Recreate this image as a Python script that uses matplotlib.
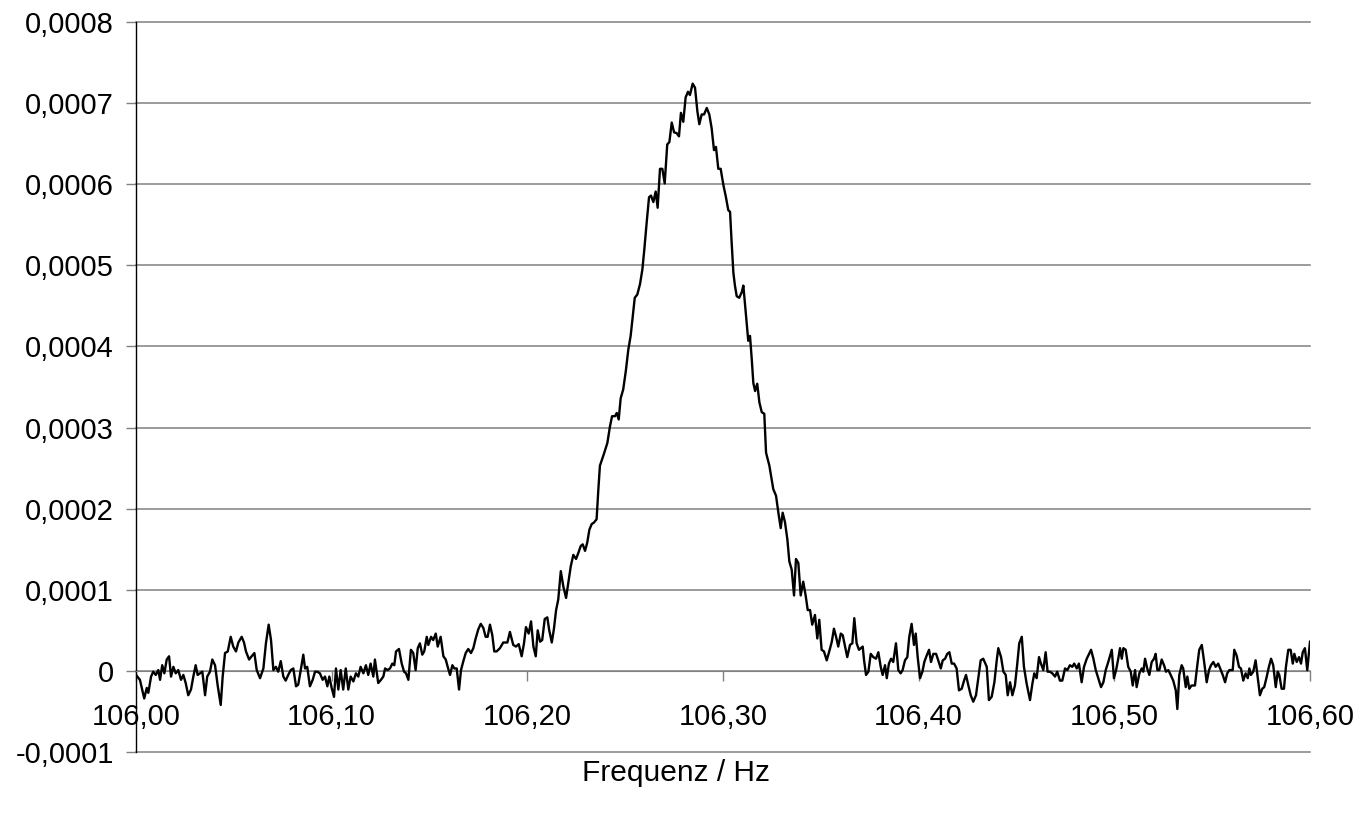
import matplotlib
matplotlib.use("Agg")
import matplotlib.pyplot as plt
from matplotlib.ticker import FuncFormatter

# Spektrum um 106,28 Hz (Amplitude in Einheiten von 1e-4)
freq_hz = [
    106.0000, 106.0020, 106.0042, 106.0055, 106.0063, 106.0077, 106.0088, 106.0101,
    106.0114, 106.0123, 106.0134, 106.0145, 106.0157, 106.0169, 106.0179, 106.0191,
    106.0203, 106.0216, 106.0230, 106.0242, 106.0254, 106.0267, 106.0281, 106.0293,
    106.0305, 106.0315, 106.0327, 106.0339, 106.0353, 106.0364, 106.0378, 106.0390,
    106.0404, 106.0418, 106.0433, 106.0443, 106.0455, 106.0469, 106.0484, 106.0497,
    106.0511, 106.0523, 106.0540, 106.0552, 106.0562, 106.0578, 106.0591, 106.0605,
    106.0617, 106.0634, 106.0651, 106.0664, 106.0678, 106.0690, 106.0702, 106.0715,
    106.0727, 106.0740, 106.0753, 106.0765, 106.0778, 106.0791, 106.0804, 106.0818,
    106.0829, 106.0842, 106.0855, 106.0864, 106.0875, 106.0889, 106.0903, 106.0915,
    106.0927, 106.0940, 106.0954, 106.0966, 106.0978, 106.0988, 106.1000, 106.1012,
    106.1022, 106.1034, 106.1046, 106.1059, 106.1072, 106.1085, 106.1097, 106.1111,
    106.1124, 106.1136, 106.1148, 106.1162, 106.1175, 106.1187, 106.1199, 106.1213,
    106.1221, 106.1230, 106.1238, 106.1252, 106.1264, 106.1273, 106.1286, 106.1298,
    106.1310, 106.1320, 106.1329, 106.1344, 106.1358, 106.1370, 106.1380, 106.1392,
    106.1405, 106.1417, 106.1429, 106.1440, 106.1451, 106.1463, 106.1473, 106.1486,
    106.1494, 106.1508, 106.1519, 106.1532, 106.1542, 106.1557, 106.1571, 106.1583,
    106.1593, 106.1605, 106.1617, 106.1627, 106.1639, 106.1651, 106.1661, 106.1673,
    106.1685, 106.1698, 106.1712, 106.1724, 106.1736, 106.1749, 106.1762, 106.1775,
    106.1787, 106.1797, 106.1809, 106.1821, 106.1831, 106.1843,
    106.1860, 106.1877, 106.1898, 106.1911, 106.1928, 106.1942, 106.1956, 106.1971,
    106.1983, 106.1993, 106.2007, 106.2019, 106.2031, 106.2043, 106.2053, 106.2065,
    106.2076, 106.2089, 106.2102, 106.2112, 106.2125, 106.2136, 106.2147, 106.2158,
    106.2171, 106.2184, 106.2198, 106.2209, 106.2222, 106.2235, 106.2249, 106.2260,
    106.2273, 106.2283, 106.2295, 106.2306, 106.2317, 106.2329, 106.2341, 106.2354,
    106.2363, 106.2371,
    106.2392, 106.2409, 106.2422, 106.2433, 106.2448, 106.2457, 106.2467, 106.2477,
    106.2490, 106.2504, 106.2516, 106.2528, 106.2539, 106.2549, 106.2562, 106.2576,
    106.2588, 106.2598, 106.2610, 106.2622, 106.2632, 106.2644, 106.2656, 106.2666,
    106.2678, 106.2690, 106.2702, 106.2715, 106.2726, 106.2738, 106.2750, 106.2763,
    106.2775, 106.2785, 106.2797, 106.2809, 106.2821, 106.2831, 106.2845, 106.2857,
    106.2869, 106.2879, 106.2891, 106.2903, 106.2917, 106.2930, 106.2942, 106.2954,
    106.2964, 106.2976, 106.2988, 106.3002, 106.3015, 106.3027, 106.3036, 106.3044,
    106.3053, 106.3061, 106.3070, 106.3083,
    106.3096, 106.3104, 106.3112, 106.3121, 106.3129, 106.3138, 106.3147, 106.3155,
    106.3164, 106.3175, 106.3186, 106.3198, 106.3211, 106.3220, 106.3237, 106.3249,
    106.3257, 106.3271, 106.3283, 106.3295, 106.3305, 106.3317, 106.3329, 106.3339,
    106.3351, 106.3363, 106.3373, 106.3385, 106.3397, 106.3410, 106.3423, 106.3433,
    106.3445, 106.3456, 106.3470, 106.3482, 106.3492, 106.3504, 106.3516, 106.3530,
    106.3543, 106.3556, 106.3567, 106.3578, 106.3589, 106.3602, 106.3612, 106.3624,
    106.3635, 106.3649, 106.3661, 106.3671, 106.3683, 106.3695,
    106.3714, 106.3721, 106.3731, 106.3743, 106.3755, 106.3768, 106.3782, 106.3794,
    106.3806, 106.3816, 106.3828, 106.3837, 106.3848, 106.3859, 106.3870, 106.3884,
    106.3896, 106.3908, 106.3918, 106.3930, 106.3942, 106.3952, 106.3964, 106.3976,
    106.3985, 106.3995, 106.4007, 106.4019, 106.4029, 106.4041, 106.4053, 106.4063,
    106.4075, 106.4089, 106.4100, 106.4113, 106.4123, 106.4135, 106.4146, 106.4157,
    106.4169, 106.4181, 106.4194, 106.4206, 106.4220, 106.4232, 106.4242, 106.4254,
    106.4266, 106.4279, 106.4293, 106.4305, 106.4317, 106.4330,
    106.4348, 106.4359, 106.4373, 106.4387, 106.4399, 106.4407, 106.4421, 106.4433,
    106.4445, 106.4455, 106.4467, 106.4479, 106.4492, 106.4504, 106.4514, 106.4527,
    106.4538, 106.4552, 106.4569, 106.4581, 106.4591, 106.4603, 106.4615, 106.4625,
    106.4637, 106.4649, 106.4659, 106.4671, 106.4683, 106.4697, 106.4708, 106.4722,
    106.4734, 106.4748, 106.4760, 106.4773, 106.4785, 106.4795, 106.4808, 106.4819,
    106.4833, 106.4845, 106.4859, 106.4871, 106.4881, 106.4893, 106.4905, 106.4918,
    106.4932, 106.4944, 106.4956, 106.4969,
    106.4987, 106.4998, 106.5009, 106.5020, 106.5029, 106.5038, 106.5046, 106.5058,
    106.5071, 106.5084, 106.5094, 106.5106, 106.5114, 106.5128, 106.5140, 106.5148,
    106.5157, 106.5168, 106.5179, 106.5191, 106.5203, 106.5211, 106.5220, 106.5230,
    106.5242, 106.5254, 106.5264, 106.5276, 106.5288, 106.5301, 106.5314, 106.5322,
    106.5332, 106.5344, 106.5352, 106.5365, 106.5373, 106.5383, 106.5395, 106.5412,
    106.5424, 106.5434, 106.5447, 106.5458, 106.5472, 106.5484, 106.5494, 106.5506,
    106.5518, 106.5531, 106.5544, 106.5554, 106.5566, 106.5577, 106.5588,
    106.5605, 106.5613, 106.5625, 106.5637, 106.5647, 106.5659, 106.5671, 106.5682,
    106.5690, 106.5698, 106.5710, 106.5722, 106.5733, 106.5744, 106.5756, 106.5766,
    106.5779, 106.5790, 106.5801, 106.5812, 106.5825, 106.5835, 106.5843, 106.5855,
    106.5867, 106.5877, 106.5889, 106.5901, 106.5912, 106.5920, 106.5932, 106.5944,
    106.5954, 106.5963, 106.5974, 106.5986, 106.6000,
]

amp_1e4 = [
    -0.05, -0.11, -0.34, -0.21, -0.27, -0.07, -0.01, -0.05,
    0.01, -0.11, 0.07, -0.03, 0.14, 0.18, -0.07, 0.05,
    -0.03, 0.01, -0.11, -0.05, -0.15, -0.30, -0.23, -0.07,
    0.07, -0.05, -0.03, -0.01, -0.30, -0.07, -0.01, 0.14,
    0.07, -0.19, -0.42, -0.07, 0.22, 0.24, 0.42, 0.30,
    0.24, 0.35, 0.42, 0.35, 0.24, 0.14, 0.18, 0.22,
    0.01, -0.09, 0.03, 0.34, 0.57, 0.38, 0.01, 0.05,
    -0.01, 0.12, -0.07, -0.12, -0.05, 0.01, 0.03, -0.19,
    -0.17, 0.01, 0.20, 0.03, 0.05, -0.19, -0.11, -0.01,
    -0.01, -0.03, -0.11, -0.07, -0.19, -0.07, -0.21, -0.32,
    0.03, -0.23, 0.01, -0.23, 0.03, -0.23, -0.07, -0.13,
    -0.03, -0.07, 0.05, -0.03, 0.07, -0.05, 0.09, -0.07,
    0.14, -0.01, -0.15, -0.11, -0.07, 0.03, 0.01, 0.03,
    0.09, 0.07, 0.24, 0.27, 0.09, -0.01, -0.03, -0.11,
    0.26, 0.22, 0.01, 0.28, 0.34, 0.20, 0.24, 0.42,
    0.32, 0.42, 0.38, 0.46, 0.30, 0.42, 0.18, 0.14,
    0.05, -0.05, 0.07, 0.03, 0.03, -0.23, 0.01, 0.12,
    0.22, 0.27, 0.22, 0.28, 0.40, 0.51, 0.58, 0.53,
    0.42, 0.42, 0.57, 0.44, 0.24, 0.24,
    0.28, 0.35, 0.35, 0.48, 0.32, 0.30, 0.33, 0.18,
    0.34, 0.54, 0.46, 0.61, 0.30, 0.18, 0.50, 0.36,
    0.38, 0.64, 0.66, 0.50, 0.35, 0.52, 0.75, 0.88,
    1.23, 1.04, 0.90, 1.08, 1.29, 1.43, 1.38, 1.45,
    1.54, 1.56, 1.48, 1.58, 1.74, 1.81, 1.83, 1.87,
    2.24, 2.53,
    2.68, 2.81, 3.01, 3.14, 3.14, 3.18, 3.10, 3.36,
    3.47, 3.71, 3.96, 4.13, 4.38, 4.60, 4.64, 4.77,
    4.95, 5.20, 5.53, 5.84, 5.86, 5.78, 5.91, 5.71,
    6.19, 6.19, 6.01, 6.49, 6.52, 6.76, 6.64, 6.63,
    6.59, 6.88, 6.77, 7.07, 7.14, 7.10, 7.24, 7.19,
    6.90, 6.74, 6.86, 6.86, 6.94, 6.86, 6.69, 6.42,
    6.46, 6.19, 6.19, 5.99, 5.84, 5.68, 5.66, 5.29,
    4.91, 4.75, 4.62, 4.60,
    4.67, 4.75, 4.54, 4.29, 4.07, 4.13, 3.84, 3.55,
    3.45, 3.54, 3.31, 3.19, 3.17, 2.69, 2.53, 2.36,
    2.24, 2.16, 1.95, 1.76, 1.95, 1.83, 1.62, 1.35,
    1.25, 0.93, 1.38, 1.33, 0.93, 1.10, 0.92, 0.75,
    0.75, 0.57, 0.69, 0.40, 0.63, 0.26, 0.24, 0.13,
    0.24, 0.36, 0.52, 0.42, 0.30, 0.46, 0.44, 0.30,
    0.17, 0.32, 0.34, 0.65, 0.34, 0.26,
    0.30, 0.13, -0.05, -0.01, 0.21, 0.17, 0.15, 0.23,
    0.05, -0.05, 0.07, -0.09, 0.09, 0.15, 0.11, 0.34,
    0.01, -0.03, 0.01, 0.13, 0.17, 0.42, 0.58, 0.32,
    0.46, 0.17, -0.09, -0.01, 0.11, 0.19, 0.26, 0.11,
    0.21, 0.21, 0.13, 0.03, 0.13, 0.15, 0.21, 0.23,
    0.09, 0.09, 0.03, -0.24, -0.22, -0.12, -0.05, -0.18,
    -0.30, -0.38, -0.30, -0.09, 0.13, 0.15,
    0.05, -0.36, -0.32, -0.14, 0.13, 0.28, 0.17, -0.01,
    -0.05, -0.30, -0.14, -0.30, -0.18, 0.09, 0.34, 0.42,
    0.05, -0.16, -0.36, -0.16, -0.03, -0.09, 0.17, 0.09,
    0.01, 0.23, -0.01, -0.01, -0.03, -0.07, -0.01, -0.12,
    -0.12, 0.03, 0.01, 0.07, 0.05, 0.09, 0.03, 0.09,
    -0.14, 0.05, 0.15, 0.21, 0.26, 0.15, 0.01, -0.09,
    -0.20, -0.14, 0.01, 0.11,
    0.26, -0.09, 0.01, 0.15, 0.28, 0.15, 0.28, 0.26,
    0.05, -0.01, -0.18, 0.01, -0.20, -0.03, 0.03, -0.01,
    0.15, 0.03, -0.05, 0.11, 0.15, 0.21, 0.01, 0.01,
    0.14, 0.07, -0.01, 0.01, -0.05, -0.12, -0.24, -0.47,
    -0.05, 0.07, 0.03, -0.20, -0.07, -0.22, -0.18, -0.18,
    0.07, 0.26, 0.32, 0.13, -0.14, 0.01, 0.07, 0.11,
    0.05, 0.09, 0.01, -0.05, -0.14, -0.03, 0.01,
    0.01, 0.26, 0.19, 0.05, 0.03, -0.12, -0.03, -0.09,
    0.03, -0.05, -0.01, 0.13, -0.09, -0.30, -0.22, -0.20,
    -0.07, 0.05, 0.15, 0.07, -0.20, -0.01, -0.05, -0.22,
    -0.22, 0.05, 0.26, 0.26, 0.09, 0.21, 0.11, 0.17,
    0.09, 0.23, 0.28, 0.01, 0.36,
]

x_ticks = [106.0, 106.1, 106.2, 106.3, 106.4, 106.5, 106.6]
y_ticks = [-0.0001, 0.0, 0.0001, 0.0002, 0.0003, 0.0004,
           0.0005, 0.0006, 0.0007, 0.0008]

plt.rcParams['font.family'] = ['Liberation Sans', 'DejaVu Sans']
plt.rcParams['axes.unicode_minus'] = False

W, H = 1371, 822
fig = plt.figure(figsize=(W / 100, H / 100), dpi=100)
ax = fig.add_axes([136 / W, 70 / H, 1174 / W, 730 / H])

amp = [a * 1e-4 for a in amp_1e4]
ax.plot(freq_hz, amp, color='black', lw=1.7, zorder=3)

ax.set_xlim(106.0, 106.6)
ax.set_ylim(-0.0001, 0.0008)

# horizontal gridlines (Excel style), including the bottom/top limits
for yv in y_ticks:
    ax.axhline(yv, color='#808080', lw=1.1, zorder=1, clip_on=False)

ax.spines['top'].set_visible(False)
ax.spines['right'].set_visible(False)
ax.spines['bottom'].set_position(('data', 0))
ax.spines['bottom'].set_color('#808080')
ax.spines['left'].set_color('black')
ax.spines['left'].set_linewidth(1.0)

ax.set_xticks(x_ticks)
ax.set_yticks(y_ticks)
ax.xaxis.set_major_formatter(
    FuncFormatter(lambda v, p: f"{v:.2f}".replace('.', ',')))
ax.yaxis.set_major_formatter(
    FuncFormatter(lambda v, p: '0' if abs(v) < 1e-12 else f"{v:.4f}".replace('.', ',')))
ax.tick_params(axis='x', direction='out', length=7, width=1, color='#808080',
               pad=16, labelsize=21)
ax.tick_params(axis='y', direction='out', length=7, width=1, color='#808080',
               pad=9, labelsize=21)

fig.text(676 / W, 49 / H, 'Frequenz / Hz', ha='center', va='center', fontsize=21.5)

fig.savefig('out.png', dpi=100)
